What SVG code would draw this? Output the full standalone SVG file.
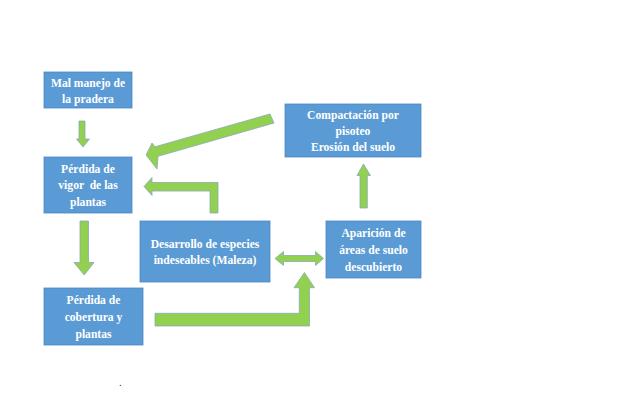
<svg xmlns="http://www.w3.org/2000/svg" width="617" height="416" viewBox="0 0 617 416">
<style>
.box{fill:#5B9BD5;stroke:#4A86C2;stroke-width:0.8}
.arr{fill:#92D050;stroke:#8AA8B8;stroke-width:0.8;stroke-linejoin:miter}
.t{font-family:"Liberation Serif","Times New Roman",serif;font-weight:bold;font-size:11.6px;fill:#FFFFFF;text-anchor:middle;white-space:pre}
</style>
<rect width="617" height="416" fill="#FFFFFF"/>
<g id="connectors">
<polygon class="arr" points="79,121 85,121 85,139 89.5,139 83,147 76.5,139 79,139"/>
<polygon class="arr" points="146,155 152,143 155,146.8 270,114 274,123 158,156.3 157,169"/>
<polygon class="arr" points="144,186.5 152,177.5 152,182.5 218,182.5 218,213 210,213 210,191 152,191 152,195.5"/>
<polygon class="arr" points="80,221 88.5,221 88.5,262.5 94,262.5 84.2,275 74,262.5 80,262.5"/>
<polygon class="arr" points="363.5,164 370.5,175.5 367.3,175.5 367.3,208 360,208 360,175.5 357,175.5"/>
<polygon class="arr" points="275,258.5 283.5,251.5 283.5,255.5 315.5,255.5 315.5,251.5 323.5,258.5 315.5,265.5 315.5,261.5 283.5,261.5 283.5,265.5"/>
<polygon class="arr" points="155,313.3 299.3,313.3 299.3,287.7 294,287.7 304.4,272.5 314.5,287.7 309.5,287.7 309.5,326 155,326"/>
</g>
<g id="mal-manejo">
<rect class="box" x="44" y="72" width="88" height="36"/>
<text class="t" x="88" y="87.3">Mal manejo de</text>
<text class="t" x="88" y="103.3">la pradera</text>
</g>
<g id="perdida-vigor">
<rect class="box" x="44" y="157" width="88" height="56"/>
<text class="t" x="88" y="172.5">Pérdida de</text>
<text class="t" x="88" y="189.3">vigor  de las</text>
<text class="t" x="88" y="206">plantas</text>
</g>
<g id="compactacion">
<rect class="box" x="285" y="104" width="136" height="53"/>
<text class="t" x="353" y="118.5">Compactación por</text>
<text class="t" x="353" y="134.5">pisoteo</text>
<text class="t" x="353" y="150.5">Erosión del suelo</text>
</g>
<g id="desarrollo">
<rect class="box" x="140" y="221" width="130" height="61"/>
<text class="t" x="205" y="248.3">Desarrollo de especies</text>
<text class="t" x="205" y="264.3">indeseables (Maleza)</text>
</g>
<g id="aparicion">
<rect class="box" x="326" y="221" width="95" height="57"/>
<text class="t" x="373.5" y="237.3">Aparición de</text>
<text class="t" x="373.5" y="254">áreas de suelo</text>
<text class="t" x="373.5" y="270.7">descubierto</text>
</g>
<g id="perdida-cobertura">
<rect class="box" x="44" y="288" width="99" height="57"/>
<text class="t" x="93.5" y="304.3">Pérdida de</text>
<text class="t" x="93.5" y="321">cobertura y</text>
<text class="t" x="93.5" y="337.7">plantas</text>
</g>
<text x="119" y="385.5" font-family="Liberation Serif, serif" font-size="11" fill="#333333">.</text>
</svg>
